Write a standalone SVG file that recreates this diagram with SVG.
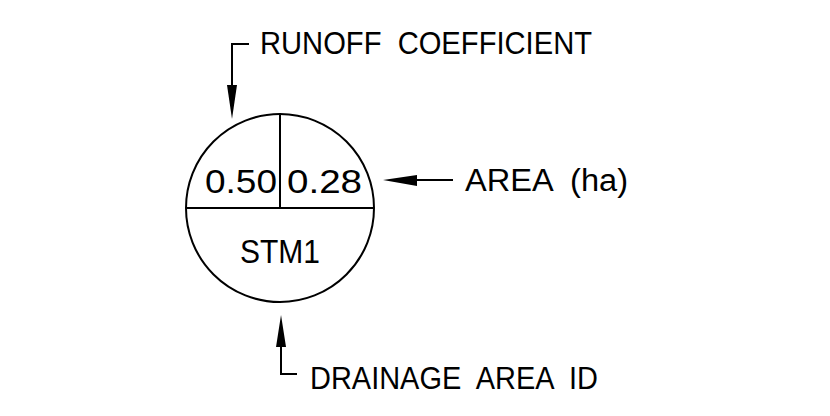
<svg xmlns="http://www.w3.org/2000/svg" width="830" height="416" viewBox="0 0 830 416">
<style>
.ln{stroke:#000;stroke-width:2;fill:none}
.t{font-family:"Liberation Sans",Arial,sans-serif;font-size:31px;fill:#000}
.tc{font-family:"Liberation Sans",Arial,sans-serif;font-size:33px;fill:#000}
.ah{fill:#000;stroke:none}
</style>
<rect width="830" height="416" fill="#fff"/>
<g id="symbol">
<circle class="ln" cx="280" cy="208" r="94"/>
<line class="ln" x1="186" y1="208" x2="374" y2="208"/>
<line class="ln" x1="280" y1="114" x2="280" y2="208"/>
<text class="tc" x="205" y="193" textLength="72" lengthAdjust="spacingAndGlyphs">0.50</text>
<text class="tc" x="287" y="193" textLength="75" lengthAdjust="spacingAndGlyphs">0.28</text>
<text class="tc" x="240" y="263" textLength="80" lengthAdjust="spacingAndGlyphs">STM1</text>
</g>
<g id="label-runoff">
<text class="t" x="260" y="54" xml:space="preserve" textLength="332" lengthAdjust="spacingAndGlyphs">RUNOFF  COEFFICIENT</text>
</g>
<g id="label-area">
<text class="t" x="465" y="191" xml:space="preserve" textLength="163" lengthAdjust="spacingAndGlyphs">AREA  (ha)</text>
</g>
<g id="label-drainage">
<text class="t" x="310" y="389" xml:space="preserve" textLength="288" lengthAdjust="spacingAndGlyphs">DRAINAGE  AREA  ID</text>
</g>
<g id="connectors">
<polyline class="ln" points="249,44 232,44 232,90"/>
<polygon class="ah" points="227,85 237,85 232,119"/>
<line class="ln" x1="415" y1="180" x2="453" y2="180"/>
<polygon class="ah" points="417,175 417,186 383,180"/>
<polyline class="ln" points="297,374 281,374 281,342"/>
<polygon class="ah" points="276,347 286,347 281,315"/>
</g>
</svg>
